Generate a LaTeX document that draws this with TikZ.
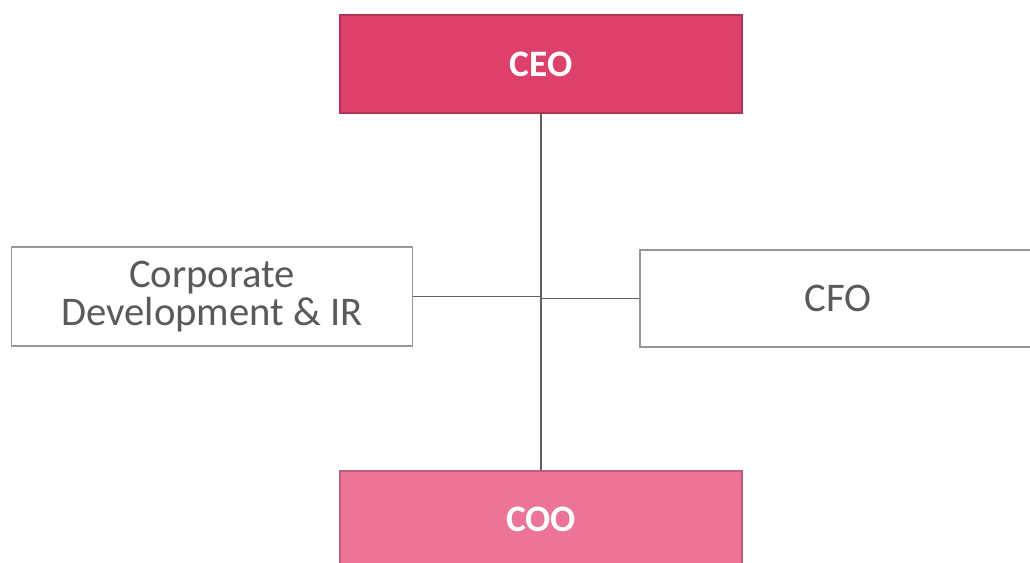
\documentclass[tikz,border=0pt]{standalone}
\usepackage{fontspec}
\setmainfont{Carlito}
\definecolor{ceored}{RGB}{222,64,108}
\definecolor{coopink}{RGB}{236,116,150}
\definecolor{txtgray}{RGB}{90,90,90}
\definecolor{boxgray}{RGB}{150,150,150}
\definecolor{linegray}{RGB}{95,95,95}
\begin{document}
\begin{tikzpicture}[x=0.75pt,y=-0.75pt,
  pinkbox/.style={rectangle, draw=#1!80!black, line width=0.9pt, fill=#1, text=white,
    minimum width=402*0.75pt, minimum height=98*0.75pt, inner sep=0pt,
    font=\bfseries\fontsize{28}{30}\selectfont},
  whitebox/.style={rectangle, draw=boxgray, line width=0.9pt, fill=white, text=txtgray,
    inner sep=0pt, align=center, font=\fontsize{30.5}{28.5}\selectfont},
  conn/.style={draw=linegray, line width=1.1pt}]
\path[use as bounding box, clip] (0,0) rectangle (1030,562);
\fill[white] (0,0) rectangle (1030,562);
\node[pinkbox=ceored] (ceo) at (541,64) {CEO};
\node[pinkbox=coopink, minimum height=100*0.75pt, text depth=0pt] (coo) at (541,521) {\raisebox{2.5pt}{COO}};
\node[whitebox, minimum width=401*0.75pt, minimum height=99*0.75pt] (corp) at (212,296.5) {Corporate\\Development \& IR};
\node[whitebox, minimum width=396*0.75pt, minimum height=97*0.75pt] (cfo) at (838,298.5) {CFO};
\draw[conn] (ceo.south) -- (coo.north);
\draw[conn] (corp.east) -- (corp.east -| ceo.south);
\draw[conn] (cfo.west) -- (cfo.west -| ceo.south);
\end{tikzpicture}
\end{document}
